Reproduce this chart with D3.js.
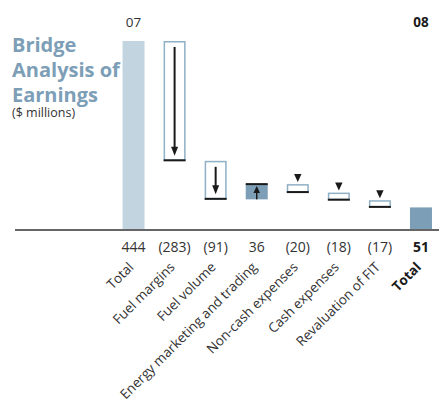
<!DOCTYPE html>
<html>
<head>
<meta charset="utf-8">
<script src="https://cdn.jsdelivr.net/npm/d3@7"></script>
<style>
	body { margin: 0; background: #fff; }
	svg { display: block; font-family: "Open Sans", sans-serif; }
</style>
</head>
<body>
<div id="chart"></div>
<script>
// chart data
const categories = ["Total", "Fuel margins", "Fuel volume", "Energy marketing and trading",
	"Non-cash expenses", "Cash expenses", "Revaluation of FIT", "Total"];
const values = [444, -283, -91, 36, -20, -18, -17, 51];
const kinds = ["total", "delta", "delta", "delta", "delta", "delta", "delta", "total"];
const yearLabels = ["07", "08"];
const titleLines = ["Bridge", "Analysis of", "Earnings"];
const unitLabel = "($ millions)";

const width = 439;
const height = 408;

const lightBlue = "#c3d4e1";
const steel = "#7c9eb6";
const boxStroke = "#8fb0c5";
const ink = "#1a1a1a";
const grey = "#333";

// running start / end of every step
let run = 0;
const steps = values.map((v, i) => {
	let s;
	if (kinds[i] === "total") {
		s = { i, v, y0: 0, y1: v };
		run = v;
	} else {
		s = { i, v, y0: run, y1: run + v };
		run += v;
	}
	return s;
});

const svg = d3
	.select("#chart")
	.append("svg")
	.attr("width", width)
	.attr("height", height);

const x = d3
	.scaleBand()
	.domain(d3.range(categories.length))
	.range([113, 441.5])
	.paddingInner(0.464)
	.paddingOuter(0.232);

const y = d3.scaleLinear().domain([0, 444]).range([229, 41]);

const cx = (i) => x(i) + x.bandwidth() / 2;
const bw = x.bandwidth();

// title
const title = svg.append("g").attr("class", "title");
title
	.selectAll("text")
	.data(titleLines)
	.join("text")
	.attr("x", 12)
	.attr("y", (d, i) => 52 + i * 25)
	.attr("fill", steel)
	.attr("font-size", 20)
	.attr("font-weight", "bold")
	.text((d) => d);
title
	.append("text")
	.attr("x", 12)
	.attr("y", 117)
	.attr("fill", grey)
	.attr("font-size", 12.5)
	.text(unitLabel);

// year labels above the totals
svg.append("text")
	.attr("x", cx(0))
	.attr("y", 27)
	.attr("text-anchor", "middle")
	.attr("font-size", 13.5)
	.attr("fill", grey)
	.text(yearLabels[0]);
svg.append("text")
	.attr("x", cx(categories.length - 1))
	.attr("y", 27)
	.attr("text-anchor", "middle")
	.attr("font-size", 13.5)
	.attr("font-weight", "bold")
	.attr("fill", ink)
	.text(yearLabels[1]);

// baseline
svg.append("line")
	.attr("x1", 15)
	.attr("x2", width)
	.attr("y1", y(0) + 1)
	.attr("y2", y(0) + 1)
	.attr("stroke", "#666")
	.attr("stroke-width", 2);

const bars = svg.append("g").attr("class", "bars");

steps.forEach((s) => {
	const top = y(Math.max(s.y0, s.y1));
	const bot = y(Math.min(s.y0, s.y1));
	const h = bot - top;
	const left = x(s.i);
	const c = cx(s.i);

	if (kinds[s.i] === "total") {
		bars.append("rect")
			.attr("x", left)
			.attr("y", top)
			.attr("width", bw)
			.attr("height", h)
			.attr("fill", s.i === 0 ? lightBlue : steel);
		return;
	}

	if (s.v > 0) {
		// increase: filled box, black line at the new level
		bars.append("rect")
			.attr("x", left)
			.attr("y", top)
			.attr("width", bw)
			.attr("height", h)
			.attr("fill", steel);
		bars.append("line")
			.attr("x1", left).attr("x2", left + bw)
			.attr("y1", top).attr("y2", top)
			.attr("stroke", ink).attr("stroke-width", 2);
		bars.append("line")
			.attr("x1", c).attr("x2", c)
			.attr("y1", bot).attr("y2", top + 7)
			.attr("stroke", ink).attr("stroke-width", 1.5);
		bars.append("path")
			.attr("d", `M${c - 3.3},${top + 9}L${c + 3.3},${top + 9}L${c},${top + 2}Z`)
			.attr("fill", ink);
		return;
	}

	// decrease: outlined box, black line at the new level
	bars.append("rect")
		.attr("x", left + 0.75)
		.attr("y", top + 0.75)
		.attr("width", bw - 1.5)
		.attr("height", h - 1.5)
		.attr("fill", "#fff")
		.attr("stroke", boxStroke)
		.attr("stroke-width", 1.5);
	bars.append("line")
		.attr("x1", left).attr("x2", left + bw)
		.attr("y1", bot - 0.5).attr("y2", bot - 0.5)
		.attr("stroke", ink).attr("stroke-width", 2);

	if (h > 20) {
		// arrow inside the box
		bars.append("line")
			.attr("x1", c).attr("x2", c)
			.attr("y1", top + 6).attr("y2", bot - 12)
			.attr("stroke", ink).attr("stroke-width", 2);
		bars.append("path")
			.attr("d", `M${c - 3.5},${bot - 14}L${c + 3.5},${bot - 14}L${c},${bot - 5}Z`)
			.attr("fill", ink);
	} else {
		// small triangle above the box
		bars.append("path")
			.attr("d", `M${c - 3.7},${top - 10}L${c + 3.7},${top - 10}L${c},${top - 2}Z`)
			.attr("fill", ink);
	}
});

// value labels
const fmt = (v) => (v < 0 ? `(${Math.abs(v)})` : `${v}`);
svg.append("g")
	.selectAll("text")
	.data(steps)
	.join("text")
	.attr("x", (d) => cx(d.i))
	.attr("y", 251.5)
	.attr("text-anchor", "middle")
	.attr("font-size", 14)
	.attr("font-weight", (d) => (d.i === categories.length - 1 ? "bold" : "normal"))
	.attr("fill", (d) => (d.i === categories.length - 1 ? ink : grey))
	.text((d) => fmt(d.v));

// category labels, rotated
svg.append("g")
	.selectAll("text")
	.data(categories)
	.join("text")
	.attr("transform", (d, i) => `translate(${cx(i) + 1}, 268) rotate(-45)`)
	.attr("text-anchor", "end")
	.attr("font-size", 13.5)
	.attr("font-weight", (d, i) => (i === categories.length - 1 ? "bold" : "normal"))
	.attr("fill", (d, i) => (i === categories.length - 1 ? ink : grey))
	.text((d) => d);
</script>
</body>
</html>
